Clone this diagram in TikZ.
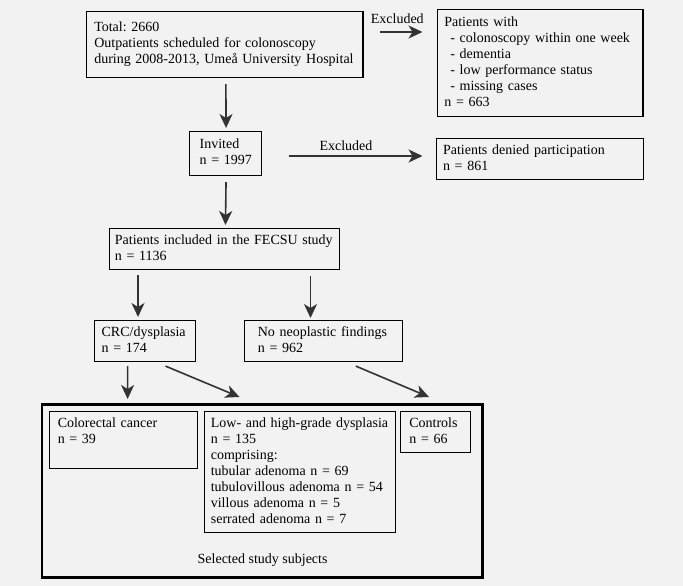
\documentclass[tikz,border=0pt]{standalone}
\usepackage{fontspec}
\setmainfont{Liberation Serif}
\usetikzlibrary{arrows.meta}
\frenchspacing

\tikzset{
	box/.style={draw, line width=1.1pt, anchor=north west, align=left, inner xsep=7pt, inner ysep=4.5pt,
		execute at begin node=\strut, execute at end node=\strut},
	arrow/.style={line width=1.6pt, draw=black!80, -{Stealth[length=14pt,width=13pt,inset=4pt]}},
}

\begin{document}
\begin{tikzpicture}[x=1pt, y=-1pt, font=\fontsize{14}{16}\selectfont]
		\fill[white!95!black] (0,0) rectangle (683,586);
		\useasboundingbox (0,0) rectangle (683,586);

		% top part
		\node[box, inner xsep=7.5pt, text width=261.2pt, minimum height=66pt] (total) at (86.2,11)
			{Total: 2660\\ Outpatients scheduled for colonoscopy\\ during 2008-2013, Umeå University Hospital};
		\node[box, text width=191.6pt, minimum height=107pt] (excl) at (436.8,9)
			{Patients with\\ \hspace*{6pt}- colonoscopy within one week\\ \hspace*{6pt}- dementia\\
			 \hspace*{6pt}- low performance status\\ \hspace*{6pt}- missing cases\\ n = 663};
		\node[box, inner xsep=10.5pt, text width=50.9pt, minimum height=44pt] (invited) at (188.6,131)
			{Invited\\ n~=~1997};
		\node[box, text width=193.4pt, minimum height=40pt] (denied) at (435.5,138)
			{Patients denied participation\\ n = 861};
		\node[box, inner xsep=5.5pt, text width=219pt, minimum height=40pt] (fecsu) at (108.9,228)
			{Patients included in the FECSU study\\ n = 1136};
		\node[box, inner xsep=7.5pt, text width=86.5pt, minimum height=41pt] (crc) at (93.6,320)
			{CRC/dysplasia\\ n = 174};
		\node[box, inner xsep=13pt, text width=131.3pt, minimum height=41pt] (noneo) at (244.3,320)
			{No neoplastic findings\\ n = 962};

		% selected study subjects
		\node[box, line width=2.6pt, minimum width=440.8pt, minimum height=173pt] (subjects) at (40.5,403) {};
		\node[box, inner xsep=8pt, text width=132.1pt, minimum height=52pt] (crcancer) at (49.2,411)
			{Colorectal cancer\\ n = 39\\[-5pt]};
		\node[box, inner xsep=6pt, text width=178.3pt, minimum height=120pt] (dysplasia) at (204.3,411)
			{Low- and high-grade dysplasia\\ n = 135\\ comprising:\\ tubular adenoma n = 69\\
			 tubulovillous adenoma n = 54\\ villous adenoma n = 5\\ serrated adenoma n = 7};
		\node[box, inner xsep=8.5pt, text width=52.7pt, minimum height=41pt] (controls) at (400.3,411)
			{Controls\\ n = 66};
		\node[anchor=base] (sellabel) at (262.6,563) {Selected study subjects};

		% arrows
		\draw[arrow, shorten <=6pt, shorten >=3pt] ([xshift=1pt]total.south) -- ([xshift=1pt]invited.north);
		\draw[arrow] ([shift={(16.6,21)}]total.north east) -- ([shift={(-14.3,23)}]excl.north west)
			node[midway, above=4pt, xshift=-4pt] (exlab1) {Excluded};
		\draw[arrow] ([shift={(27.8,25)}]invited.north east) -- ([shift={(-13,18)}]denied.north west)
			node[midway, above=1pt, xshift=-10pt] (exlab2) {Excluded};
		\draw[arrow, shorten <=6pt, shorten >=3pt] ([xshift=1pt]invited.south) -- ([xshift=1pt]fecsu.north);
		\draw[arrow] ([shift={(29.1,5)}]fecsu.south west) -- ([shift={(44.4,-3)}]crc.north west);
		\draw[arrow] ([shift={(201.6,6)}]fecsu.south west) -- ([shift={(66.2,-2)}]noneo.north west);
		\draw[arrow] ([shift={(34,4)}]crc.south west) -- ([shift={(78.4,-12)}]crcancer.north west);
		\draw[arrow] ([shift={(71.9,4)}]crc.south west) -- ([shift={(35.2,-14)}]dysplasia.north west);
		\draw[arrow] ([shift={(111.5,4)}]noneo.south west) -- ([shift={(28.7,-14)}]controls.north west);

	\end{tikzpicture}
\end{document}
